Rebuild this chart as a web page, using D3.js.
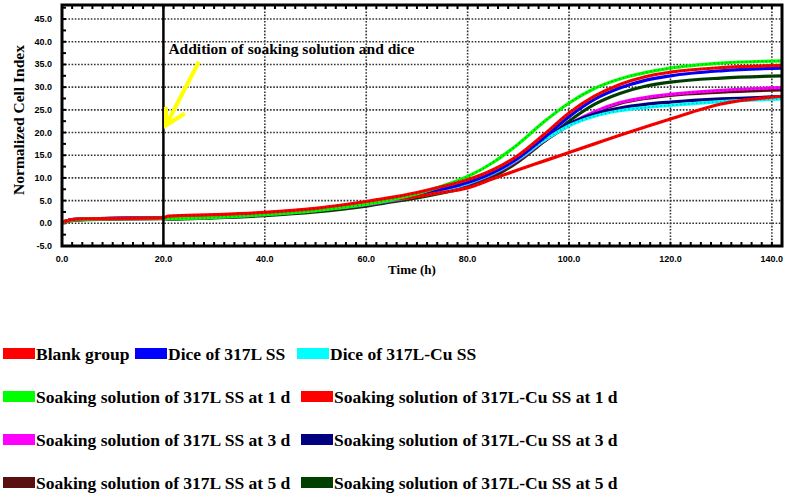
<!DOCTYPE html>
<html>
<head>
<style>
body { margin: 0; background: #fff; }
svg { display: block; }
</style>
</head>
<body>
<script src="https://cdn.jsdelivr.net/npm/d3@7"></script>
<script>
// cell index curves

var times = [0, 2, 5, 20, 21, 30, 40, 50, 60, 65, 70, 75, 80, 85, 90, 95, 100, 105, 110, 115, 120, 130, 142]

var names = ["Blank group", "Dice of 317L SS", "Dice of 317L-Cu SS",
  "Soaking solution of 317L SS at 1 d", "Soaking solution of 317L-Cu SS at 1 d",
  "Soaking solution of 317L SS at 3 d", "Soaking solution of 317L-Cu SS at 3 d",
  "Soaking solution of 317L SS at 5 d", "Soaking solution of 317L-Cu SS at 5 d"]

var colors = ["#ff0000", "#0000ff", "#00ffff", "#00ff00", "#ff0000",
  "#ff00ff", "#000080", "#5a1010", "#004000"]

var blank    = [0.2, 0.8, 1.0, 1.2, 1.6, 1.9, 2.4, 3.3, 4.8, 5.7, 6.8, 8.1, 9.6, 11.8, 15.0, 19.5, 24.3, 28.0, 30.6, 32.3, 33.3, 34.3, 34.8]
var dice317  = [0.2, 0.8, 1.0, 1.2, 1.1, 1.4, 2.0, 2.9, 4.4, 5.3, 6.3, 7.5, 9.0, 11.2, 14.4, 18.8, 23.5, 27.3, 29.8, 31.5, 32.5, 33.6, 34.2]
var diceCu   = [0.2, 0.8, 1.0, 1.2, 1.1, 1.4, 2.0, 2.9, 4.2, 5.1, 6.1, 7.3, 8.8, 11.0, 14.2, 18.2, 21.5, 23.6, 24.8, 25.5, 26.0, 26.8, 27.4]
var soak1    = [0.2, 0.7, 0.9, 1.1, 1.0, 1.3, 1.9, 2.8, 4.2, 5.2, 6.5, 8.2, 10.3, 13.4, 17.5, 22.3, 26.5, 29.7, 31.8, 33.2, 34.2, 35.3, 35.8]
var soakCu1  = [0.2, 0.8, 1.0, 1.2, 1.4, 1.7, 2.3, 3.2, 4.6, 5.2, 5.9, 6.8, 7.8, 9.8, 11.8, 13.7, 15.6, 17.5, 19.4, 21.2, 23.0, 26.3, 28.0]
var soak3    = [0.2, 0.7, 0.9, 1.1, 1.0, 1.3, 1.9, 2.8, 4.1, 5.0, 6.0, 7.2, 8.7, 10.9, 14.0, 18.2, 21.8, 24.6, 26.6, 27.7, 28.4, 29.3, 29.9]
var soakCu3  = [0.2, 0.8, 1.0, 1.2, 1.1, 1.4, 2.0, 2.9, 4.2, 5.1, 6.1, 7.3, 8.8, 11.0, 14.3, 18.4, 21.9, 24.1, 25.4, 26.2, 26.7, 27.4, 27.9]
var soak5    = [0.2, 0.7, 0.9, 1.1, 1.0, 1.3, 1.9, 2.8, 4.0, 4.9, 5.9, 7.1, 8.5, 10.7, 13.8, 18.0, 21.6, 24.4, 26.4, 27.5, 28.2, 28.9, 29.4]
var soakCu5  = [0.1, 0.6, 0.8, 1.0, 0.9, 1.2, 1.7, 2.5, 3.8, 4.7, 5.6, 6.7, 8.0, 10.2, 13.6, 18.0, 22.5, 26.2, 28.6, 30.2, 31.1, 32.0, 32.5]

var series = [blank, dice317, diceCu, soak1, soakCu1, soak3, soakCu3, soak5, soakCu5]

var xTicks = [0, 20, 40, 60, 80, 100, 120, 140]
var yTicks = [-5, 0, 5, 10, 15, 20, 25, 30, 35, 40, 45]

var svgWidth = 787
var svgHeight = 493

var svg = d3.select("body").append("svg")
  .attr("width", svgWidth)
  .attr("height", svgHeight);

// plot box (not "top", window.top is read only)
var boxL = 62, boxR = 782, boxT = 5, boxB = 246

var x = d3.scaleLinear().domain([0, 142]).range([boxL, boxR])
var y = d3.scaleLinear().domain([-5, 48.1]).range([boxB, boxT])

// dotted grid
svg.append("g").selectAll("line")
  .data(yTicks.filter(function(d) { return d > -5; }))
  .enter().append("line")
  .attr("x1", boxL).attr("x2", boxR)
  .attr("y1", function(d) { return y(d); })
  .attr("y2", function(d) { return y(d); })
  .style("stroke", "#333")
  .style("stroke-width", 1.6)
  .style("stroke-dasharray", "1.6,1.6");

svg.append("g").selectAll("line")
  .data(xTicks.filter(function(d) { return d > 20; }))
  .enter().append("line")
  .attr("y1", boxT).attr("y2", boxB)
  .attr("x1", function(d) { return x(d); })
  .attr("x2", function(d) { return x(d); })
  .style("stroke", "#333")
  .style("stroke-width", 1.6)
  .style("stroke-dasharray", "1.6,1.6");

// small ticks, every 2 h and every 2.5 units, pointing inwards
var xMinor = d3.range(0, 142, 2)
var yMinor = d3.range(-5, 48, 2.5)

svg.append("g").selectAll("line")
  .data(xMinor).enter().append("line")
  .attr("x1", function(d) { return x(d); })
  .attr("x2", function(d) { return x(d); })
  .attr("y1", boxB).attr("y2", boxB - 4)
  .style("stroke", "black").style("stroke-width", 2);

svg.append("g").selectAll("line")
  .data(xMinor).enter().append("line")
  .attr("x1", function(d) { return x(d); })
  .attr("x2", function(d) { return x(d); })
  .attr("y1", boxT).attr("y2", boxT + 4)
  .style("stroke", "black").style("stroke-width", 2);

svg.append("g").selectAll("line")
  .data(yMinor).enter().append("line")
  .attr("x1", boxL).attr("x2", boxL + 4)
  .attr("y1", function(d) { return y(d); })
  .attr("y2", function(d) { return y(d); })
  .style("stroke", "black").style("stroke-width", 2);

// curves
var line = d3.line()
  .x(function(d) { return x(d[0]); })
  .y(function(d) { return y(d[1]); })
  .curve(d3.curveMonotoneX)

var order = [8, 7, 5, 6, 2, 1, 4, 3, 0]

order.forEach(function(i) {
  var pts = times.map(function(t, j) { return [t, series[i][j]]; })
  svg.append("path")
    .attr("d", line(pts))
    .attr("fill", "none")
    .attr("stroke", colors[i])
    .attr("stroke-width", 3.2)
    .attr("stroke-linejoin", "round");
  // dark speckle markers on top of each curve
  svg.append("path")
    .attr("d", line(pts))
    .attr("fill", "none")
    .attr("stroke", "#000")
    .attr("stroke-opacity", 0.35)
    .attr("stroke-width", 1.5)
    .attr("stroke-dasharray", "1,3");
});

// addition line at 20 h
svg.append("line")
  .attr("x1", x(20)).attr("x2", x(20))
  .attr("y1", boxT).attr("y2", boxB)
  .style("stroke", "black").style("stroke-width", 2.5);

// frame
svg.append("rect")
  .attr("x", boxL).attr("y", boxT)
  .attr("width", boxR - boxL).attr("height", boxB - boxT)
  .attr("fill", "none")
  .attr("stroke", "black")
  .attr("stroke-width", 3);

// tick labels
svg.append("g").selectAll("text")
  .data(xTicks).enter().append("text")
  .attr("x", function(d) { return x(d); })
  .attr("y", 262)
  .attr("text-anchor", "middle")
  .style("font", "bold 9px 'Liberation Sans', Arial, sans-serif")
  .text(function(d) { return d.toFixed(1); });

svg.append("g").selectAll("text")
  .data(yTicks).enter().append("text")
  .attr("x", 52)
  .attr("y", function(d) { return y(d) + 3; })
  .attr("text-anchor", "end")
  .style("font", "bold 9px 'Liberation Sans', Arial, sans-serif")
  .text(function(d) { return d.toFixed(1); });

// axis titles
svg.append("text")
  .attr("x", 412).attr("y", 274)
  .attr("text-anchor", "middle")
  .style("font", "bold 13px 'Liberation Serif', 'Times New Roman', serif")
  .text("Time (h)");

svg.append("text")
  .attr("transform", "translate(24,120) rotate(-90)")
  .attr("text-anchor", "middle")
  .style("font", "bold 15.5px 'Liberation Serif', 'Times New Roman', serif")
  .text("Normalized Cell Index");

// annotation and yellow arrow
svg.append("text")
  .attr("x", x(20) + 5).attr("y", 54)
  .style("font", "bold 15.5px 'Liberation Serif', 'Times New Roman', serif")
  .text("Addition of soaking solution and dice");

svg.append("line")
  .attr("x1", x(27)).attr("y1", y(35.6))
  .attr("x2", x(20.5)).attr("y2", y(21.6))
  .style("stroke", "#ffff00").style("stroke-width", 4);

svg.append("polyline")
  .attr("points", [[x(20.5), y(25.6)], [x(20.5), y(21.6)], [x(24.2), y(24.2)]].join(" "))
  .attr("fill", "none")
  .style("stroke", "#ffff00").style("stroke-width", 4);

// legend, rows laid out as in the figure
var legendRows = [[0, 1, 2], [3, 4], [5, 6], [7, 8]]
var legendCols = [[3, 135, 297], [3, 301], [3, 301], [3, 301]]
var legendY = [354, 397, 440, 483]

legendRows.forEach(function(row, r) {
  row.forEach(function(i, c) {
    var lx = legendCols[r][c]
    svg.append("rect")
      .attr("x", lx).attr("y", legendY[r] - 6)
      .attr("width", 32).attr("height", 11)
      .attr("fill", colors[i]);
    svg.append("text")
      .attr("x", lx + 33).attr("y", legendY[r] + 6)
      .style("font", "bold 17.5px 'Liberation Serif', 'Times New Roman', serif")
      .text(names[i]);
  });
});
</script>
</body>
</html>
